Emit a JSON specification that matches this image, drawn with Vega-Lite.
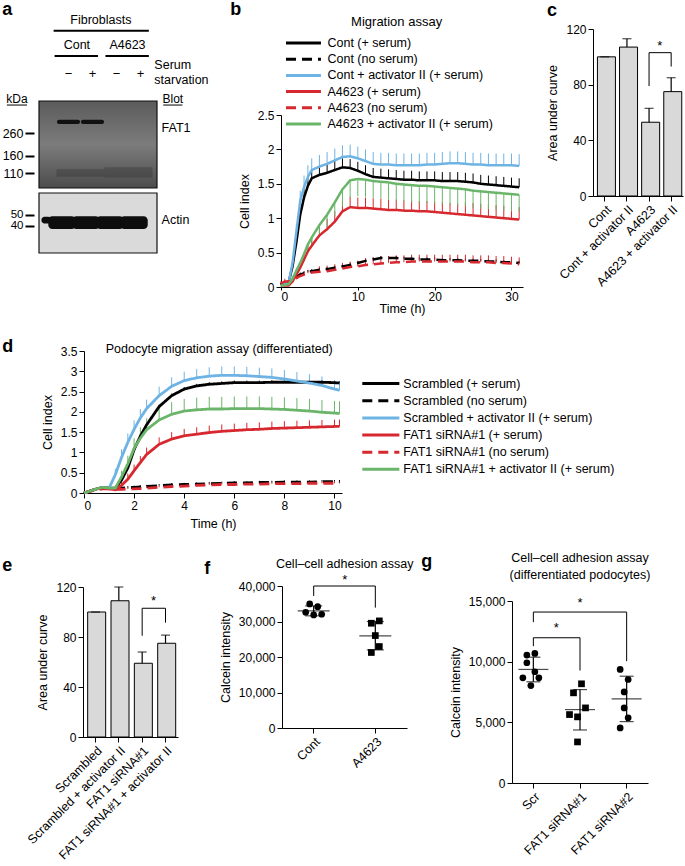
{
"$schema": "https://vega.github.io/schema/vega-lite/v6.json",
"background": "white",
"padding": {"left": 1, "top": 0, "right": 2, "bottom": 2},
"config": {
  "font": "Liberation Sans",
  "view": {"stroke": null},
  "axis": {"grid": false, "domainColor": "#000", "tickColor": "#000", "labelColor": "#000", "titleColor": "#000", "labelFontSize": 12, "titleFontSize": 12.5, "titleFontWeight": "normal", "tickSize": 5, "labelPadding": 2, "titlePadding": 6, "labelOverlap": false},
  "title": {"fontSize": 18, "fontWeight": "bold", "anchor": "start", "frame": "bounds", "color": "#000"},
  "text": {"fontSize": 12.5, "color": "#000"}
},
"datasets": {
  "b": [
{"s":0,"t":0,"v":0.03,"u":0.05},{"s":0,"t":0.5,"v":0.06,"u":0.08},{"s":0,"t":1,"v":0.07,"u":0.1},{"s":0,"t":1.5,"v":0.3,"u":0.36},{"s":0,"t":2,"v":0.65,"u":0.74},{"s":0,"t":2.5,"v":1.05,"u":1.16},{"s":0,"t":3,"v":1.3,"u":1.42},{"s":0,"t":3.5,"v":1.47,"u":1.6},{"s":0,"t":4,"v":1.58,"u":1.71},{"s":0,"t":5,"v":1.63,"u":1.76},{"s":0,"t":6,"v":1.66,"u":1.79},{"s":0,"t":7,"v":1.7,"u":1.83},{"s":0,"t":8,"v":1.74,"u":1.87},{"s":0,"t":9,"v":1.73,"u":1.86},{"s":0,"t":10,"v":1.69,"u":1.82},{"s":0,"t":11,"v":1.64,"u":1.77},{"s":0,"t":12,"v":1.6,"u":1.73},{"s":0,"t":13,"v":1.59,"u":1.72},{"s":0,"t":14,"v":1.58,"u":1.71},{"s":0,"t":15,"v":1.57,"u":1.7},{"s":0,"t":16,"v":1.56,"u":1.69},{"s":0,"t":17,"v":1.56,"u":1.69},{"s":0,"t":18,"v":1.55,"u":1.68},{"s":0,"t":19,"v":1.55,"u":1.68},{"s":0,"t":20,"v":1.55,"u":1.68},{"s":0,"t":21,"v":1.54,"u":1.67},{"s":0,"t":22,"v":1.54,"u":1.67},{"s":0,"t":23,"v":1.54,"u":1.67},{"s":0,"t":24,"v":1.53,"u":1.66},{"s":0,"t":25,"v":1.52,"u":1.65},{"s":0,"t":26,"v":1.5,"u":1.63},{"s":0,"t":27,"v":1.49,"u":1.62},{"s":0,"t":28,"v":1.48,"u":1.61},{"s":0,"t":29,"v":1.47,"u":1.6},{"s":0,"t":30,"v":1.46,"u":1.59},{"s":0,"t":31,"v":1.45,"u":1.58},
{"s":1,"t":0,"v":0.03,"u":0.06},{"s":1,"t":0.5,"v":0.06,"u":0.09},{"s":1,"t":1,"v":0.08,"u":0.11},{"s":1,"t":1.5,"v":0.12,"u":0.15},{"s":1,"t":2,"v":0.15,"u":0.18},{"s":1,"t":2.5,"v":0.18,"u":0.21},{"s":1,"t":3,"v":0.2,"u":0.23},{"s":1,"t":3.5,"v":0.22,"u":0.25},{"s":1,"t":4,"v":0.23,"u":0.26},{"s":1,"t":5,"v":0.25,"u":0.28},{"s":1,"t":6,"v":0.26,"u":0.29},{"s":1,"t":7,"v":0.28,"u":0.31},{"s":1,"t":8,"v":0.3,"u":0.33},{"s":1,"t":9,"v":0.32,"u":0.35},{"s":1,"t":10,"v":0.35,"u":0.38},{"s":1,"t":11,"v":0.38,"u":0.41},{"s":1,"t":12,"v":0.4,"u":0.43},{"s":1,"t":13,"v":0.42,"u":0.45},{"s":1,"t":14,"v":0.42,"u":0.45},{"s":1,"t":15,"v":0.42,"u":0.45},{"s":1,"t":16,"v":0.41,"u":0.44},{"s":1,"t":17,"v":0.41,"u":0.44},{"s":1,"t":18,"v":0.4,"u":0.43},{"s":1,"t":19,"v":0.4,"u":0.43},{"s":1,"t":20,"v":0.4,"u":0.43},{"s":1,"t":21,"v":0.39,"u":0.42},{"s":1,"t":22,"v":0.39,"u":0.42},{"s":1,"t":23,"v":0.39,"u":0.42},{"s":1,"t":24,"v":0.38,"u":0.41},{"s":1,"t":25,"v":0.38,"u":0.41},{"s":1,"t":26,"v":0.38,"u":0.41},{"s":1,"t":27,"v":0.37,"u":0.4},{"s":1,"t":28,"v":0.37,"u":0.4},{"s":1,"t":29,"v":0.36,"u":0.39},{"s":1,"t":30,"v":0.36,"u":0.39},{"s":1,"t":31,"v":0.35,"u":0.38},
{"s":2,"t":0,"v":0.02,"u":0.05},{"s":2,"t":0.5,"v":0.05,"u":0.08},{"s":2,"t":1,"v":0.06,"u":0.09},{"s":2,"t":1.5,"v":0.35,"u":0.43},{"s":2,"t":2,"v":0.8,"u":0.92},{"s":2,"t":2.5,"v":1.25,"u":1.4},{"s":2,"t":3,"v":1.45,"u":1.62},{"s":2,"t":3.5,"v":1.6,"u":1.77},{"s":2,"t":4,"v":1.7,"u":1.87},{"s":2,"t":5,"v":1.75,"u":1.92},{"s":2,"t":6,"v":1.79,"u":1.96},{"s":2,"t":7,"v":1.84,"u":2.01},{"s":2,"t":8,"v":1.89,"u":2.06},{"s":2,"t":9,"v":1.9,"u":2.07},{"s":2,"t":10,"v":1.87,"u":2.04},{"s":2,"t":11,"v":1.83,"u":2},{"s":2,"t":12,"v":1.79,"u":1.96},{"s":2,"t":13,"v":1.78,"u":1.95},{"s":2,"t":14,"v":1.78,"u":1.95},{"s":2,"t":15,"v":1.77,"u":1.94},{"s":2,"t":16,"v":1.77,"u":1.94},{"s":2,"t":17,"v":1.77,"u":1.94},{"s":2,"t":18,"v":1.77,"u":1.94},{"s":2,"t":19,"v":1.78,"u":1.95},{"s":2,"t":20,"v":1.78,"u":1.95},{"s":2,"t":21,"v":1.79,"u":1.96},{"s":2,"t":22,"v":1.8,"u":1.97},{"s":2,"t":23,"v":1.8,"u":1.97},{"s":2,"t":24,"v":1.79,"u":1.96},{"s":2,"t":25,"v":1.78,"u":1.95},{"s":2,"t":26,"v":1.78,"u":1.95},{"s":2,"t":27,"v":1.77,"u":1.94},{"s":2,"t":28,"v":1.77,"u":1.94},{"s":2,"t":29,"v":1.77,"u":1.94},{"s":2,"t":30,"v":1.77,"u":1.94},{"s":2,"t":31,"v":1.76,"u":1.93},
{"s":3,"t":0,"v":0.03,"u":0.05},{"s":3,"t":0.5,"v":0.02,"u":0.04},{"s":3,"t":1,"v":0.02,"u":0.04},{"s":3,"t":1.5,"v":0.08,"u":0.12},{"s":3,"t":2,"v":0.18,"u":0.24},{"s":3,"t":2.5,"v":0.28,"u":0.36},{"s":3,"t":3,"v":0.4,"u":0.5},{"s":3,"t":3.5,"v":0.52,"u":0.64},{"s":3,"t":4,"v":0.6,"u":0.73},{"s":3,"t":5,"v":0.75,"u":0.9},{"s":3,"t":6,"v":0.84,"u":0.99},{"s":3,"t":7,"v":0.95,"u":1.1},{"s":3,"t":8,"v":1.1,"u":1.25},{"s":3,"t":9,"v":1.16,"u":1.31},{"s":3,"t":10,"v":1.15,"u":1.3},{"s":3,"t":11,"v":1.15,"u":1.3},{"s":3,"t":12,"v":1.14,"u":1.29},{"s":3,"t":13,"v":1.13,"u":1.28},{"s":3,"t":14,"v":1.12,"u":1.27},{"s":3,"t":15,"v":1.12,"u":1.27},{"s":3,"t":16,"v":1.11,"u":1.26},{"s":3,"t":17,"v":1.11,"u":1.26},{"s":3,"t":18,"v":1.1,"u":1.25},{"s":3,"t":19,"v":1.1,"u":1.25},{"s":3,"t":20,"v":1.09,"u":1.24},{"s":3,"t":21,"v":1.08,"u":1.23},{"s":3,"t":22,"v":1.07,"u":1.22},{"s":3,"t":23,"v":1.06,"u":1.21},{"s":3,"t":24,"v":1.05,"u":1.23},{"s":3,"t":25,"v":1.04,"u":1.22},{"s":3,"t":26,"v":1.03,"u":1.21},{"s":3,"t":27,"v":1.02,"u":1.2},{"s":3,"t":28,"v":1.01,"u":1.19},{"s":3,"t":29,"v":1,"u":1.18},{"s":3,"t":30,"v":0.99,"u":1.17},{"s":3,"t":31,"v":0.98,"u":1.16},
{"s":4,"t":0,"v":0.05,"u":0.09},{"s":4,"t":0.5,"v":0.08,"u":0.12},{"s":4,"t":1,"v":0.08,"u":0.12},{"s":4,"t":1.5,"v":0.1,"u":0.14},{"s":4,"t":2,"v":0.13,"u":0.17},{"s":4,"t":2.5,"v":0.16,"u":0.2},{"s":4,"t":3,"v":0.18,"u":0.22},{"s":4,"t":3.5,"v":0.2,"u":0.24},{"s":4,"t":4,"v":0.21,"u":0.25},{"s":4,"t":5,"v":0.22,"u":0.3},{"s":4,"t":6,"v":0.23,"u":0.31},{"s":4,"t":7,"v":0.25,"u":0.33},{"s":4,"t":8,"v":0.27,"u":0.35},{"s":4,"t":9,"v":0.29,"u":0.37},{"s":4,"t":10,"v":0.3,"u":0.38},{"s":4,"t":11,"v":0.32,"u":0.42},{"s":4,"t":12,"v":0.33,"u":0.43},{"s":4,"t":13,"v":0.34,"u":0.44},{"s":4,"t":14,"v":0.35,"u":0.45},{"s":4,"t":15,"v":0.36,"u":0.46},{"s":4,"t":16,"v":0.36,"u":0.46},{"s":4,"t":17,"v":0.37,"u":0.47},{"s":4,"t":18,"v":0.37,"u":0.47},{"s":4,"t":19,"v":0.37,"u":0.47},{"s":4,"t":20,"v":0.37,"u":0.47},{"s":4,"t":21,"v":0.37,"u":0.47},{"s":4,"t":22,"v":0.37,"u":0.47},{"s":4,"t":23,"v":0.37,"u":0.47},{"s":4,"t":24,"v":0.37,"u":0.47},{"s":4,"t":25,"v":0.36,"u":0.46},{"s":4,"t":26,"v":0.36,"u":0.46},{"s":4,"t":27,"v":0.36,"u":0.46},{"s":4,"t":28,"v":0.35,"u":0.45},{"s":4,"t":29,"v":0.35,"u":0.45},{"s":4,"t":30,"v":0.34,"u":0.44},{"s":4,"t":31,"v":0.33,"u":0.43},
{"s":5,"t":0,"v":0.02,"u":0},{"s":5,"t":0.5,"v":0.03,"u":0.01},{"s":5,"t":1,"v":0.04,"u":0.02},{"s":5,"t":1.5,"v":0.12,"u":0.08},{"s":5,"t":2,"v":0.24,"u":0.18},{"s":5,"t":2.5,"v":0.35,"u":0.27},{"s":5,"t":3,"v":0.48,"u":0.38},{"s":5,"t":3.5,"v":0.62,"u":0.5},{"s":5,"t":4,"v":0.72,"u":0.58},{"s":5,"t":5,"v":0.9,"u":0.74},{"s":5,"t":6,"v":1.05,"u":0.87},{"s":5,"t":7,"v":1.23,"u":1.03},{"s":5,"t":8,"v":1.42,"u":1.17},{"s":5,"t":9,"v":1.55,"u":1.3},{"s":5,"t":10,"v":1.57,"u":1.32},{"s":5,"t":11,"v":1.56,"u":1.31},{"s":5,"t":12,"v":1.54,"u":1.29},{"s":5,"t":13,"v":1.53,"u":1.28},{"s":5,"t":14,"v":1.52,"u":1.27},{"s":5,"t":15,"v":1.5,"u":1.25},{"s":5,"t":16,"v":1.49,"u":1.24},{"s":5,"t":17,"v":1.48,"u":1.23},{"s":5,"t":18,"v":1.47,"u":1.22},{"s":5,"t":19,"v":1.47,"u":1.22},{"s":5,"t":20,"v":1.46,"u":1.21},{"s":5,"t":21,"v":1.45,"u":1.2},{"s":5,"t":22,"v":1.44,"u":1.19},{"s":5,"t":23,"v":1.43,"u":1.18},{"s":5,"t":24,"v":1.42,"u":1.17},{"s":5,"t":25,"v":1.4,"u":1.15},{"s":5,"t":26,"v":1.39,"u":1.14},{"s":5,"t":27,"v":1.38,"u":1.13},{"s":5,"t":28,"v":1.37,"u":1.12},{"s":5,"t":29,"v":1.36,"u":1.11},{"s":5,"t":30,"v":1.35,"u":1.1},{"s":5,"t":31,"v":1.34,"u":1.09}
  ],
  "d": [
{"s":0,"t":0,"v":0,"u":0.02},{"s":0,"t":0.5,"v":0.1,"u":0.12},{"s":0,"t":0.75,"v":0.14,"u":0.16},{"s":0,"t":1,"v":0.12,"u":0.14},{"s":0,"t":1.25,"v":0.12,"u":0.15},{"s":0,"t":1.5,"v":0.32,"u":0.37},{"s":0,"t":1.75,"v":0.62,"u":0.67},{"s":0,"t":2,"v":1.07,"u":1.12},{"s":0,"t":2.25,"v":1.4,"u":1.45},{"s":0,"t":2.5,"v":1.68,"u":1.73},{"s":0,"t":3,"v":2.13,"u":2.18},{"s":0,"t":3.5,"v":2.4,"u":2.45},{"s":0,"t":4,"v":2.56,"u":2.61},{"s":0,"t":4.5,"v":2.64,"u":2.69},{"s":0,"t":5,"v":2.68,"u":2.73},{"s":0,"t":5.5,"v":2.7,"u":2.75},{"s":0,"t":6,"v":2.72,"u":2.77},{"s":0,"t":6.5,"v":2.72,"u":2.77},{"s":0,"t":7,"v":2.72,"u":2.77},{"s":0,"t":7.5,"v":2.73,"u":2.78},{"s":0,"t":8,"v":2.73,"u":2.78},{"s":0,"t":8.5,"v":2.73,"u":2.78},{"s":0,"t":9,"v":2.73,"u":2.78},{"s":0,"t":9.5,"v":2.73,"u":2.78},{"s":0,"t":10,"v":2.72,"u":2.77},{"s":0,"t":10.2,"v":2.71,"u":2.76},
{"s":1,"t":0,"v":0,"u":0.02},{"s":1,"t":0.5,"v":0.1,"u":0.12},{"s":1,"t":0.75,"v":0.14,"u":0.16},{"s":1,"t":1,"v":0.12,"u":0.14},{"s":1,"t":1.25,"v":0.11,"u":0.14},{"s":1,"t":1.5,"v":0.12,"u":0.16},{"s":1,"t":1.75,"v":0.13,"u":0.17},{"s":1,"t":2,"v":0.14,"u":0.18},{"s":1,"t":2.25,"v":0.15,"u":0.19},{"s":1,"t":2.5,"v":0.16,"u":0.2},{"s":1,"t":3,"v":0.18,"u":0.22},{"s":1,"t":3.5,"v":0.2,"u":0.24},{"s":1,"t":4,"v":0.21,"u":0.25},{"s":1,"t":4.5,"v":0.22,"u":0.26},{"s":1,"t":5,"v":0.23,"u":0.27},{"s":1,"t":5.5,"v":0.24,"u":0.28},{"s":1,"t":6,"v":0.25,"u":0.29},{"s":1,"t":6.5,"v":0.25,"u":0.29},{"s":1,"t":7,"v":0.26,"u":0.3},{"s":1,"t":7.5,"v":0.26,"u":0.3},{"s":1,"t":8,"v":0.27,"u":0.31},{"s":1,"t":8.5,"v":0.27,"u":0.31},{"s":1,"t":9,"v":0.27,"u":0.31},{"s":1,"t":9.5,"v":0.28,"u":0.32},{"s":1,"t":10,"v":0.28,"u":0.32},{"s":1,"t":10.2,"v":0.28,"u":0.32},
{"s":2,"t":0,"v":0,"u":0.02},{"s":2,"t":0.5,"v":0.1,"u":0.12},{"s":2,"t":0.75,"v":0.14,"u":0.16},{"s":2,"t":1,"v":0.12,"u":0.14},{"s":2,"t":1.25,"v":0.45,"u":0.6},{"s":2,"t":1.5,"v":0.88,"u":1.08},{"s":2,"t":1.75,"v":1.25,"u":1.47},{"s":2,"t":2,"v":1.57,"u":1.79},{"s":2,"t":2.25,"v":1.85,"u":2.07},{"s":2,"t":2.5,"v":2.08,"u":2.3},{"s":2,"t":3,"v":2.4,"u":2.62},{"s":2,"t":3.5,"v":2.63,"u":2.85},{"s":2,"t":4,"v":2.77,"u":2.99},{"s":2,"t":4.5,"v":2.84,"u":3.06},{"s":2,"t":5,"v":2.88,"u":3.1},{"s":2,"t":5.5,"v":2.9,"u":3.12},{"s":2,"t":6,"v":2.9,"u":3.12},{"s":2,"t":6.5,"v":2.89,"u":3.11},{"s":2,"t":7,"v":2.87,"u":3.09},{"s":2,"t":7.5,"v":2.85,"u":3.07},{"s":2,"t":8,"v":2.81,"u":3.03},{"s":2,"t":8.5,"v":2.76,"u":2.98},{"s":2,"t":9,"v":2.71,"u":2.93},{"s":2,"t":9.5,"v":2.65,"u":2.87},{"s":2,"t":10,"v":2.56,"u":2.78},{"s":2,"t":10.2,"v":2.53,"u":2.75},
{"s":3,"t":0,"v":0,"u":0.02},{"s":3,"t":0.5,"v":0.1,"u":0.12},{"s":3,"t":0.75,"v":0.12,"u":0.14},{"s":3,"t":1,"v":0.1,"u":0.12},{"s":3,"t":1.25,"v":0.08,"u":0.1},{"s":3,"t":1.5,"v":0.19,"u":0.3},{"s":3,"t":1.75,"v":0.34,"u":0.48},{"s":3,"t":2,"v":0.55,"u":0.7},{"s":3,"t":2.25,"v":0.75,"u":0.91},{"s":3,"t":2.5,"v":0.95,"u":1.12},{"s":3,"t":3,"v":1.2,"u":1.37},{"s":3,"t":3.5,"v":1.33,"u":1.5},{"s":3,"t":4,"v":1.41,"u":1.58},{"s":3,"t":4.5,"v":1.45,"u":1.62},{"s":3,"t":5,"v":1.49,"u":1.66},{"s":3,"t":5.5,"v":1.52,"u":1.69},{"s":3,"t":6,"v":1.54,"u":1.71},{"s":3,"t":6.5,"v":1.56,"u":1.73},{"s":3,"t":7,"v":1.57,"u":1.74},{"s":3,"t":7.5,"v":1.59,"u":1.76},{"s":3,"t":8,"v":1.6,"u":1.77},{"s":3,"t":8.5,"v":1.61,"u":1.78},{"s":3,"t":9,"v":1.62,"u":1.79},{"s":3,"t":9.5,"v":1.63,"u":1.8},{"s":3,"t":10,"v":1.64,"u":1.81},{"s":3,"t":10.2,"v":1.64,"u":1.81},
{"s":4,"t":0,"v":0,"u":0.02},{"s":4,"t":0.5,"v":0.08,"u":0.1},{"s":4,"t":0.75,"v":0.1,"u":0.12},{"s":4,"t":1,"v":0.1,"u":0.12},{"s":4,"t":1.25,"v":0.09,"u":0.12},{"s":4,"t":1.5,"v":0.09,"u":0.13},{"s":4,"t":1.75,"v":0.1,"u":0.14},{"s":4,"t":2,"v":0.1,"u":0.14},{"s":4,"t":2.25,"v":0.11,"u":0.15},{"s":4,"t":2.5,"v":0.12,"u":0.16},{"s":4,"t":3,"v":0.14,"u":0.18},{"s":4,"t":3.5,"v":0.16,"u":0.2},{"s":4,"t":4,"v":0.17,"u":0.21},{"s":4,"t":4.5,"v":0.19,"u":0.23},{"s":4,"t":5,"v":0.2,"u":0.24},{"s":4,"t":5.5,"v":0.21,"u":0.25},{"s":4,"t":6,"v":0.21,"u":0.25},{"s":4,"t":6.5,"v":0.22,"u":0.26},{"s":4,"t":7,"v":0.22,"u":0.26},{"s":4,"t":7.5,"v":0.23,"u":0.27},{"s":4,"t":8,"v":0.23,"u":0.27},{"s":4,"t":8.5,"v":0.23,"u":0.27},{"s":4,"t":9,"v":0.24,"u":0.28},{"s":4,"t":9.5,"v":0.24,"u":0.28},{"s":4,"t":10,"v":0.24,"u":0.28},{"s":4,"t":10.2,"v":0.24,"u":0.28},
{"s":5,"t":0,"v":0,"u":0.02},{"s":5,"t":0.5,"v":0.1,"u":0.12},{"s":5,"t":0.75,"v":0.14,"u":0.16},{"s":5,"t":1,"v":0.12,"u":0.14},{"s":5,"t":1.25,"v":0.12,"u":0.16},{"s":5,"t":1.5,"v":0.4,"u":0.55},{"s":5,"t":1.75,"v":0.72,"u":0.92},{"s":5,"t":2,"v":1.1,"u":1.35},{"s":5,"t":2.25,"v":1.35,"u":1.62},{"s":5,"t":2.5,"v":1.56,"u":1.84},{"s":5,"t":3,"v":1.8,"u":2.1},{"s":5,"t":3.5,"v":1.94,"u":2.24},{"s":5,"t":4,"v":2.02,"u":2.32},{"s":5,"t":4.5,"v":2.05,"u":2.35},{"s":5,"t":5,"v":2.07,"u":2.37},{"s":5,"t":5.5,"v":2.07,"u":2.37},{"s":5,"t":6,"v":2.08,"u":2.38},{"s":5,"t":6.5,"v":2.08,"u":2.38},{"s":5,"t":7,"v":2.08,"u":2.38},{"s":5,"t":7.5,"v":2.07,"u":2.37},{"s":5,"t":8,"v":2.06,"u":2.36},{"s":5,"t":8.5,"v":2.04,"u":2.34},{"s":5,"t":9,"v":2.02,"u":2.32},{"s":5,"t":9.5,"v":1.99,"u":2.29},{"s":5,"t":10,"v":1.97,"u":2.27},{"s":5,"t":10.2,"v":1.96,"u":2.26}
  ]
},
"spacing": 22,
"vconcat": [
 {"spacing": 0, "hconcat": [
  {"width": 1, "height": 1, "data": {"values": [{}]}, "mark": {"type": "point", "opacity": 0, "size": 1}},
  {"spacing": 21, "hconcat": [
   {"spacing": 0, "vconcat": [
    {"width": 1, "height": 1, "data": {"values": [{}]}, "mark": {"type": "point", "opacity": 0, "size": 1}},
    {"vconcat": [
     {"title": {"text": "a", "offset": -5.5},
      "width": 128, "height": 87,
      "layer": [
       {"data": {"values": [{}]},
        "mark": {"type": "rect", "fill": {"gradient": "linear", "x1": 0, "y1": 0, "x2": 0, "y2": 1, "stops": [{"offset": 0, "color": "#5b5b5b"}, {"offset": 0.5, "color": "#7c7c7c"}, {"offset": 1, "color": "#4c4c4c"}]}, "stroke": "#111", "strokeWidth": 1.2},
        "encoding": {
         "x": {"datum": -0.23, "type": "quantitative", "scale": {"domain": [-0.23, 4.69], "nice": false, "zero": false}, "axis": null},
         "x2": {"datum": 4.69},
         "y": {"datum": 80, "type": "quantitative", "scale": {"type": "log", "domain": [80, 518], "nice": false}, "axis": {"values": [110, 160, 260], "tickCount": 5, "title": null, "domain": false, "tickSize": 9, "tickWidth": 2, "labelFontSize": 12.5, "labelPadding": 2}},
         "y2": {"datum": 518}}},
       {"data": {"values": [{"lane": 1, "hi": 120, "lo": 102}, {"lane": 2, "hi": 120, "lo": 102}, {"lane": 3, "hi": 125, "lo": 100}, {"lane": 4, "hi": 125, "lo": 100}]},
        "mark": {"type": "bar", "width": 24, "color": "#2a2a2a", "opacity": 0.3},
        "encoding": {"x": {"field": "lane", "type": "quantitative"}, "y": {"field": "hi", "type": "quantitative"}, "y2": {"field": "lo"}}},
       {"data": {"values": [{"lane": 1, "hi": 346, "lo": 316}, {"lane": 2, "hi": 346, "lo": 316}]},
        "mark": {"type": "bar", "width": 23, "color": "#111", "cornerRadius": 2},
        "encoding": {"x": {"field": "lane", "type": "quantitative"}, "y": {"field": "hi", "type": "quantitative"}, "y2": {"field": "lo"}}},
       {"data": {"values": [{}]}, "mark": {"type": "text", "text": "Fibroblasts", "fontSize": 12.5}, "encoding": {"x": {"datum": 2.35}, "y": {"datum": 2958}}},
       {"data": {"values": [{}]}, "mark": {"type": "rule", "strokeWidth": 2}, "encoding": {"x": {"datum": 0.38}, "x2": {"datum": 4.35}, "y": {"datum": 2335}}},
       {"data": {"values": [{}]}, "mark": {"type": "text", "text": "Cont", "fontSize": 12.5}, "encoding": {"x": {"datum": 1.35}, "y": {"datum": 1727}}},
       {"data": {"values": [{}]}, "mark": {"type": "text", "text": "A4623", "fontSize": 12.5}, "encoding": {"x": {"datum": 3.46}, "y": {"datum": 1727}}},
       {"data": {"values": [{}]}, "mark": {"type": "rule", "strokeWidth": 2}, "encoding": {"x": {"datum": 0.42}, "x2": {"datum": 2.23}, "y": {"datum": 1364}}},
       {"data": {"values": [{}]}, "mark": {"type": "rule", "strokeWidth": 2}, "encoding": {"x": {"datum": 2.54}, "x2": {"datum": 4.35}, "y": {"datum": 1364}}},
       {"data": {"values": [{"lane": 1, "serum": "−"}, {"lane": 2, "serum": "+"}, {"lane": 3, "serum": "−"}, {"lane": 4, "serum": "+"}]},
        "mark": {"type": "text", "fontSize": 13}, "encoding": {"x": {"field": "lane", "type": "quantitative"}, "y": {"datum": 925}, "text": {"field": "serum"}}},
       {"data": {"values": [{}]}, "mark": {"type": "text", "text": "Serum", "align": "left", "fontSize": 12.5}, "encoding": {"x": {"datum": 4.58}, "y": {"datum": 1124}}},
       {"data": {"values": [{}]}, "mark": {"type": "text", "text": "starvation", "align": "left", "fontSize": 12.5}, "encoding": {"x": {"datum": 4.58}, "y": {"datum": 813}}},
       {"data": {"values": [{}]}, "mark": {"type": "text", "text": "kDa", "fontSize": 12}, "encoding": {"x": {"datum": -1.15}, "y": {"datum": 541}}},
       {"data": {"values": [{}]}, "mark": {"type": "rule", "strokeWidth": 1}, "encoding": {"x": {"datum": -1.57}, "x2": {"datum": -0.73}, "y": {"datum": 475}}},
       {"data": {"values": [{}]}, "mark": {"type": "text", "text": "Blot", "fontSize": 12}, "encoding": {"x": {"datum": 5.35}, "y": {"datum": 541}}},
       {"data": {"values": [{}]}, "mark": {"type": "rule", "strokeWidth": 1}, "encoding": {"x": {"datum": 4.95}, "x2": {"datum": 5.75}, "y": {"datum": 475}}},
       {"data": {"values": [{}]}, "mark": {"type": "text", "text": "FAT1", "align": "left", "fontSize": 12.5}, "encoding": {"x": {"datum": 4.88}, "y": {"datum": 290}}}
      ]},
     {"width": 128, "height": 60,
      "layer": [
       {"data": {"values": [{}]},
        "mark": {"type": "rect", "fill": "#dadada", "stroke": "#111", "strokeWidth": 1.2},
        "encoding": {
         "x": {"datum": 0.04, "type": "quantitative", "scale": {"domain": [0.04, 4.96], "nice": false, "zero": false}, "axis": null},
         "x2": {"datum": 4.96},
         "y": {"datum": 23, "type": "quantitative", "scale": {"type": "log", "domain": [23, 78], "nice": false}, "axis": {"values": [40, 50], "tickCount": 5, "title": null, "domain": false, "tickSize": 9, "tickWidth": 2, "labelFontSize": 11.5, "labelPadding": 2}},
         "y2": {"datum": 78}}},
       {"data": {"values": [{"lane": 1}, {"lane": 2}, {"lane": 3}, {"lane": 4}]},
        "mark": {"type": "bar", "width": 27.5, "color": "#0d0d0d", "cornerRadius": 4},
        "encoding": {"x": {"field": "lane", "type": "quantitative"}, "y": {"datum": 48.5}, "y2": {"datum": 37.5}}},
       {"data": {"values": [{"lane": 0.35}]},
        "mark": {"type": "bar", "width": 10, "color": "#0d0d0d", "cornerRadius": 3},
        "encoding": {"x": {"field": "lane", "type": "quantitative"}, "y": {"datum": 48}, "y2": {"datum": 42}}},
       {"data": {"values": [{}]}, "mark": {"type": "text", "text": "Actin", "align": "left", "fontSize": 12.5}, "encoding": {"x": {"datum": 5.15}, "y": {"datum": 45}}}
      ]}
    ], "spacing": 3}
   ]},
   {"spacing": 0, "vconcat": [
    {"width": 1, "height": 1, "data": {"values": [{}]}, "mark": {"type": "point", "opacity": 0, "size": 1}},
    {"title": {"text": "b", "offset": -3, "dx": -8},
     "width": 242, "height": 172,
     "resolve": {"scale": {"y": "independent"}, "axis": {"y": "independent"}},
     "layer": [
      {"data": {"name": "b"},
       "layer": [
        {"mark": {"type": "rule", "strokeWidth": 1},
         "encoding": {
          "x": {"field": "t", "type": "quantitative", "scale": {"domain": [0, 31.5], "nice": false}, "axis": {"values": [0, 10, 20, 30], "tickCount": 10, "title": "Time (h)", "tickSize": 3, "labelPadding": 1, "titlePadding": 0}},
          "y": {"field": "v", "type": "quantitative", "scale": {"domain": [0, 2.5], "nice": false}, "axis": {"values": [0, 0.5, 1, 1.5, 2, 2.5], "tickCount": 12, "format": "~g", "title": "Cell index"}},
          "y2": {"field": "u"},
          "color": {"field": "s", "type": "nominal", "scale": {"domain": [0, 1, 2, 3, 4, 5], "range": ["#000000", "#000000", "#6db3e4", "#d6282e", "#d6282e", "#6bb56b"]}, "legend": null}}},
        {"mark": {"type": "line", "strokeWidth": 2.5},
         "encoding": {
          "x": {"field": "t", "type": "quantitative"},
          "y": {"field": "v", "type": "quantitative"},
          "color": {"field": "s", "type": "nominal", "legend": null},
          "strokeDash": {"field": "s", "type": "nominal", "scale": {"domain": [0, 1, 2, 3, 4, 5], "range": [[1, 0], [10, 6], [1, 0], [1, 0], [10, 6], [1, 0]]}, "legend": null}}},
        {"data": {"values": [{}]}, "mark": {"type": "text", "text": "Migration assay", "fontSize": 13}, "encoding": {"x": {"datum": 15.05}, "y": {"datum": 3.85}}}
       ]},
      {"data": {"values": [{"s": 0, "name": "Cont (+ serum)"}, {"s": 1, "name": "Cont (no serum)"}, {"s": 2, "name": "Cont + activator II (+ serum)"}, {"s": 3, "name": "A4623 (+ serum)"}, {"s": 4, "name": "A4623 (no serum)"}, {"s": 5, "name": "A4623 + activator II (+ serum)"}]},
       "layer": [
        {"mark": {"type": "rule", "strokeWidth": 3},
         "encoding": {
          "x": {"datum": 0.65}, "x2": {"datum": 5.2},
          "y": {"field": "s", "type": "nominal", "scale": {"type": "point", "domain": [0, 1, 2, 3, 4, 5], "range": [-72, 9], "padding": 0}, "axis": null},
          "color": {"field": "s", "type": "nominal", "legend": null},
          "strokeDash": {"field": "s", "type": "nominal", "legend": null}}},
        {"mark": {"type": "text", "align": "left", "baseline": "middle", "fontSize": 12.5},
         "encoding": {"x": {"datum": 6.05}, "y": {"field": "s", "type": "nominal"}, "text": {"field": "name"}}}
       ]}
     ]}
   ]},
   {"spacing": 0, "vconcat": [
    {"width": 1, "height": 1, "data": {"values": [{}]}, "mark": {"type": "point", "opacity": 0, "size": 1}},
    {"title": {"text": "c", "offset": 3.5},
     "width": 90, "height": 167,
     "layer": [
      {"data": {"values": [{"g": "Cont", "v": 100, "u": 100}, {"g": "Cont + activator II", "v": 107, "u": 113}, {"g": "A4623", "v": 53, "u": 63}, {"g": "A4623 + activator II", "v": 75, "u": 85}]},
       "layer": [
        {"mark": {"type": "bar", "fill": "#d9d9d9", "stroke": "#000", "strokeWidth": 1},
         "encoding": {
          "x": {"field": "g", "type": "nominal", "sort": null, "scale": {"domain": ["Cont", "Cont + activator II", "A4623", "A4623 + activator II"], "paddingInner": 0.33, "paddingOuter": 0.2}, "axis": {"labelAngle": -45, "title": null, "labelFontSize": 12.5}},
          "y": {"field": "v", "type": "quantitative", "scale": {"domain": [0, 120], "nice": false}, "axis": {"values": [0, 40, 80, 120], "tickCount": 10, "title": "Area under curve"}}}},
        {"mark": {"type": "rule", "strokeWidth": 1.2, "color": "#000"}, "encoding": {"x": {"field": "g", "type": "nominal"}, "y": {"field": "v", "type": "quantitative"}, "y2": {"field": "u"}}},
        {"mark": {"type": "tick", "orient": "horizontal", "size": 9, "thickness": 1.2, "color": "#000"}, "encoding": {"x": {"field": "g", "type": "nominal"}, "y": {"field": "u", "type": "quantitative"}}}
       ]},
      {"data": {"values": [{"g": "A4623", "lo": 79, "hi": 103}, {"g": "A4623 + activator II", "lo": 93, "hi": 103}]},
       "mark": {"type": "rule", "strokeWidth": 1, "color": "#000"}, "encoding": {"x": {"field": "g", "type": "nominal"}, "y": {"field": "lo", "type": "quantitative"}, "y2": {"field": "hi"}}},
      {"data": {"values": [{"a": "A4623", "b": "A4623 + activator II", "y": 103}]},
       "mark": {"type": "rule", "strokeWidth": 1, "color": "#000"}, "encoding": {"x": {"field": "a", "type": "nominal"}, "x2": {"field": "b"}, "y": {"field": "y", "type": "quantitative"}}},
      {"data": {"values": [{"b": "A4623 + activator II", "y": 108, "star": "*"}]},
       "mark": {"type": "text", "dx": -11.5, "fontSize": 13, "baseline": "middle"}, "encoding": {"x": {"field": "b", "type": "nominal"}, "y": {"field": "y", "type": "quantitative"}, "text": {"field": "star"}}}
     ]}
   ]}
  ]}
 ]},
 {"spacing": 21, "vconcat": [
 {"spacing": 0, "hconcat": [
  {"width": 1, "height": 1, "data": {"values": [{}]}, "mark": {"type": "point", "opacity": 0, "size": 1}},
  {"title": {"text": "d", "offset": -13, "dx": -39},
   "width": 258, "height": 142,
   "resolve": {"scale": {"y": "independent"}, "axis": {"y": "independent"}},
   "layer": [
    {"data": {"name": "d"},
     "layer": [
      {"mark": {"type": "rule", "strokeWidth": 1},
       "encoding": {
        "x": {"field": "t", "type": "quantitative", "scale": {"domain": [0, 10.3], "nice": false}, "axis": {"values": [0, 2, 4, 6, 8, 10], "tickCount": 12, "title": "Time (h)"}},
        "y": {"field": "v", "type": "quantitative", "scale": {"domain": [0, 3.5], "nice": false}, "axis": {"values": [0, 0.5, 1, 1.5, 2, 2.5, 3, 3.5], "tickCount": 16, "format": "~g", "title": "Cell index"}},
        "y2": {"field": "u"},
        "color": {"field": "s", "type": "nominal", "scale": {"domain": [0, 1, 2, 3, 4, 5], "range": ["#000000", "#000000", "#6db3e4", "#d6282e", "#d6282e", "#6bb56b"]}, "legend": null}}},
      {"mark": {"type": "line", "strokeWidth": 2.8},
       "encoding": {
        "x": {"field": "t", "type": "quantitative"},
        "y": {"field": "v", "type": "quantitative"},
        "color": {"field": "s", "type": "nominal", "legend": null},
        "strokeDash": {"field": "s", "type": "nominal", "scale": {"domain": [0, 1, 2, 3, 4, 5], "range": [[1, 0], [10, 6], [1, 0], [1, 0], [10, 6], [1, 0]]}, "legend": null}}},
      {"data": {"values": [{}]}, "mark": {"type": "text", "text": "Podocyte migration assay (differentiated)", "fontSize": 12.5}, "encoding": {"x": {"datum": 5.4}, "y": {"datum": 3.56}}}
     ]},
    {"data": {"values": [{"s": 0, "name": "Scrambled (+ serum)"}, {"s": 1, "name": "Scrambled (no serum)"}, {"s": 2, "name": "Scrambled + activator II (+ serum)"}, {"s": 3, "name": "FAT1 siRNA#1 (+ serum)"}, {"s": 4, "name": "FAT1 siRNA#1 (no serum)"}, {"s": 5, "name": "FAT1 siRNA#1 + activator II (+ serum)"}]},
     "layer": [
      {"mark": {"type": "rule", "strokeWidth": 3},
       "encoding": {
        "x": {"datum": 11.11}, "x2": {"datum": 12.59},
        "y": {"field": "s", "type": "nominal", "scale": {"type": "point", "domain": [0, 1, 2, 3, 4, 5], "range": [32.6, 118.3], "padding": 0}, "axis": null},
        "color": {"field": "s", "type": "nominal", "legend": null},
        "strokeDash": {"field": "s", "type": "nominal", "legend": null}}},
      {"mark": {"type": "text", "align": "left", "baseline": "middle", "fontSize": 12.5},
       "encoding": {"x": {"datum": 12.75}, "y": {"field": "s", "type": "nominal"}, "text": {"field": "name"}}}
     ]}
   ]}
 ]},
 {"spacing": 0, "hconcat": [
  {"width": 1, "height": 1, "data": {"values": [{}]}, "mark": {"type": "point", "opacity": 0, "size": 1}},
  {"spacing": 26, "hconcat": [
   {"spacing": 5, "vconcat": [
    {"width": 1, "height": 1, "data": {"values": [{}]}, "mark": {"type": "point", "opacity": 0, "size": 1}},
    {"title": {"text": "e", "offset": 6, "dx": -23},
     "width": 95, "height": 150,
     "layer": [
      {"data": {"values": [{"g": "Scrambled", "v": 100, "u": 100}, {"g": "Scrambled + activator II", "v": 109, "u": 120}, {"g": "FAT1 siRNA#1", "v": 59, "u": 68}, {"g": "FAT1 siRNA#1 + activator II", "v": 75, "u": 81.5}]},
       "layer": [
        {"mark": {"type": "bar", "fill": "#d9d9d9", "stroke": "#000", "strokeWidth": 1},
         "encoding": {
          "x": {"field": "g", "type": "nominal", "sort": null, "scale": {"domain": ["Scrambled", "Scrambled + activator II", "FAT1 siRNA#1", "FAT1 siRNA#1 + activator II"], "paddingInner": 0.33, "paddingOuter": 0.2}, "axis": {"labelAngle": -45, "title": null, "labelFontSize": 12.5}},
          "y": {"field": "v", "type": "quantitative", "scale": {"domain": [0, 120], "nice": false}, "axis": {"values": [0, 40, 80, 120], "tickCount": 10, "title": "Area under curve"}}}},
        {"mark": {"type": "rule", "strokeWidth": 1.2, "color": "#000"}, "encoding": {"x": {"field": "g", "type": "nominal"}, "y": {"field": "v", "type": "quantitative"}, "y2": {"field": "u"}}},
        {"mark": {"type": "tick", "orient": "horizontal", "size": 9, "thickness": 1.2, "color": "#000"}, "encoding": {"x": {"field": "g", "type": "nominal"}, "y": {"field": "u", "type": "quantitative"}}}
       ]},
      {"data": {"values": [{"g": "FAT1 siRNA#1", "lo": 81, "hi": 103}, {"g": "FAT1 siRNA#1 + activator II", "lo": 91.5, "hi": 103}]},
       "mark": {"type": "rule", "strokeWidth": 1, "color": "#000"}, "encoding": {"x": {"field": "g", "type": "nominal"}, "y": {"field": "lo", "type": "quantitative"}, "y2": {"field": "hi"}}},
      {"data": {"values": [{"a": "FAT1 siRNA#1", "b": "FAT1 siRNA#1 + activator II", "y": 103}]},
       "mark": {"type": "rule", "strokeWidth": 1, "color": "#000"}, "encoding": {"x": {"field": "a", "type": "nominal"}, "x2": {"field": "b"}, "y": {"field": "y", "type": "quantitative"}}},
      {"data": {"values": [{"b": "FAT1 siRNA#1 + activator II", "y": 109, "star": "*"}]},
       "mark": {"type": "text", "dx": -12, "fontSize": 13, "baseline": "middle"}, "encoding": {"x": {"field": "b", "type": "nominal"}, "y": {"field": "y", "type": "quantitative"}, "text": {"field": "star"}}}
     ]}
   ]},
   {"spacing": 7, "hconcat": [
    {"spacing": 5, "vconcat": [
     {"width": 1, "height": 1, "data": {"values": [{}]}, "mark": {"type": "point", "opacity": 0, "size": 1}},
     {"title": {"text": "f", "offset": -20, "dx": -15},
      "width": 125, "height": 142,
      "layer": [
       {"data": {"values": [{"g": "Cont", "r": "r1", "v": 32600}, {"g": "Cont", "r": "r2", "v": 34940}, {"g": "Cont", "r": "r3", "v": 31850}, {"g": "Cont", "r": "r4", "v": 34190}, {"g": "Cont", "r": "r5", "v": 32040}, {"g": "A4623", "r": "r2", "v": 29510}, {"g": "A4623", "r": "r4", "v": 30170}, {"g": "A4623", "r": "r3", "v": 26040}, {"g": "A4623", "r": "r4", "v": 22950}, {"g": "A4623", "r": "r2", "v": 21270}]},
        "mark": {"type": "point", "filled": true, "size": 45, "color": "#000", "opacity": 1},
        "encoding": {
         "x": {"field": "g", "type": "nominal", "sort": null, "scale": {"domain": ["Cont", "A4623"], "paddingInner": 0.676, "paddingOuter": 0.352}, "axis": {"labelAngle": -45, "title": null, "labelFontSize": 12.5}},
         "xOffset": {"field": "r", "type": "nominal", "scale": {"domain": ["r1", "r2", "r3", "r4", "r5"]}},
         "y": {"field": "v", "type": "quantitative", "scale": {"domain": [0, 40000], "nice": false}, "axis": {"values": [0, 10000, 20000, 30000, 40000], "tickCount": 10, "format": ",d", "title": "Calcein intensity"}},
         "shape": {"field": "g", "type": "nominal", "scale": {"domain": ["Cont", "A4623"], "range": ["circle", "square"]}, "legend": null}}},
       {"data": {"values": [{"g": "Cont", "m": 33000, "lo": 31600, "hi": 34400}, {"g": "A4623", "m": 25950, "lo": 22000, "hi": 30000}]},
        "layer": [
         {"mark": {"type": "rule", "strokeWidth": 1.2, "color": "#000"}, "encoding": {"x": {"field": "g", "type": "nominal"}, "y": {"field": "lo", "type": "quantitative"}, "y2": {"field": "hi"}}},
         {"mark": {"type": "tick", "orient": "horizontal", "size": 32, "thickness": 1.2, "color": "#000"}, "encoding": {"x": {"field": "g", "type": "nominal"}, "y": {"field": "m", "type": "quantitative"}}},
         {"mark": {"type": "tick", "orient": "horizontal", "size": 17, "thickness": 1.2, "color": "#000"}, "encoding": {"x": {"field": "g", "type": "nominal"}, "y": {"field": "lo", "type": "quantitative"}}},
         {"mark": {"type": "tick", "orient": "horizontal", "size": 17, "thickness": 1.2, "color": "#000"}, "encoding": {"x": {"field": "g", "type": "nominal"}, "y": {"field": "hi", "type": "quantitative"}}}
        ]},
       {"data": {"values": [{"g": "Cont", "lo": 37200, "hi": 40000}, {"g": "A4623", "lo": 33900, "hi": 40000}]},
        "mark": {"type": "rule", "strokeWidth": 1, "color": "#000"}, "encoding": {"x": {"field": "g", "type": "nominal"}, "y": {"field": "lo", "type": "quantitative"}, "y2": {"field": "hi"}}},
       {"data": {"values": [{"a": "Cont", "b": "A4623", "y": 40000}]},
        "mark": {"type": "rule", "strokeWidth": 1, "color": "#000"}, "encoding": {"x": {"field": "a", "type": "nominal"}, "x2": {"field": "b"}, "y": {"field": "y", "type": "quantitative"}}},
       {"data": {"values": [{"a": "Cont", "y": 41700, "star": "*"}]},
        "mark": {"type": "text", "dx": 31, "fontSize": 13, "baseline": "middle"}, "encoding": {"x": {"field": "a", "type": "nominal"}, "y": {"field": "y", "type": "quantitative"}, "text": {"field": "star"}}},
       {"data": {"values": [{}]}, "mark": {"type": "text", "text": "Cell–cell adhesion assay", "dx": 31, "fontSize": 12.5}, "encoding": {"x": {"datum": "Cont"}, "y": {"datum": 46300}}}
      ]}
    ]},
    {"spacing": 0, "vconcat": [
     {"width": 1, "height": 1, "data": {"values": [{}]}, "mark": {"type": "point", "opacity": 0, "size": 1}},
     {"title": {"text": "g", "offset": -19, "dx": -28},
      "width": 136, "height": 182,
      "layer": [
       {"data": {"values": [{"g": "Scr", "r": "r2", "v": 10540}, {"g": "Scr", "r": "r4", "v": 10680}, {"g": "Scr", "r": "r2", "v": 9910}, {"g": "Scr", "r": "r4", "v": 9170}, {"g": "Scr", "r": "r1", "v": 8670}, {"g": "Scr", "r": "r5", "v": 8670}, {"g": "Scr", "r": "r3", "v": 8030}, {"g": "FAT1 siRNA#1", "r": "r2", "v": 7430}, {"g": "FAT1 siRNA#1", "r": "r4", "v": 8175}, {"g": "FAT1 siRNA#1", "r": "r5", "v": 6190}, {"g": "FAT1 siRNA#1", "r": "r1", "v": 5640}, {"g": "FAT1 siRNA#1", "r": "r3", "v": 5450}, {"g": "FAT1 siRNA#1", "r": "r3", "v": 3385}, {"g": "FAT1 siRNA#2", "r": "r2", "v": 9360}, {"g": "FAT1 siRNA#2", "r": "r4", "v": 8530}, {"g": "FAT1 siRNA#2", "r": "r3", "v": 7510}, {"g": "FAT1 siRNA#2", "r": "r3", "v": 6190}, {"g": "FAT1 siRNA#2", "r": "r4", "v": 5370}, {"g": "FAT1 siRNA#2", "r": "r2", "v": 4540}]},
        "mark": {"type": "point", "filled": true, "size": 45, "color": "#000", "opacity": 1},
        "encoding": {
         "x": {"field": "g", "type": "nominal", "sort": null, "scale": {"domain": ["Scr", "FAT1 siRNA#1", "FAT1 siRNA#2"], "paddingInner": 0.465, "paddingOuter": 0.19}, "axis": {"labelAngle": -45, "title": null, "labelFontSize": 12.5}},
         "xOffset": {"field": "r", "type": "nominal", "scale": {"domain": ["r1", "r2", "r3", "r4", "r5"]}},
         "y": {"field": "v", "type": "quantitative", "scale": {"domain": [0, 15000], "nice": false}, "axis": {"values": [0, 5000, 10000, 15000], "tickCount": 10, "format": ",d", "title": "Calcein intensity"}},
         "shape": {"field": "g", "type": "nominal", "scale": {"domain": ["Scr", "FAT1 siRNA#1", "FAT1 siRNA#2"], "range": ["circle", "square", "triangle-up"]}, "legend": null}}},
       {"data": {"values": [{"g": "Scr", "m": 9360, "lo": 8340, "hi": 10370}, {"g": "FAT1 siRNA#1", "m": 6050, "lo": 4370, "hi": 7700}, {"g": "FAT1 siRNA#2", "m": 6935, "lo": 5060, "hi": 8800}]},
        "layer": [
         {"mark": {"type": "rule", "strokeWidth": 1.2, "color": "#000"}, "encoding": {"x": {"field": "g", "type": "nominal"}, "y": {"field": "lo", "type": "quantitative"}, "y2": {"field": "hi"}}},
         {"mark": {"type": "tick", "orient": "horizontal", "size": 30, "thickness": 1.2, "color": "#000"}, "encoding": {"x": {"field": "g", "type": "nominal"}, "y": {"field": "m", "type": "quantitative"}}},
         {"mark": {"type": "tick", "orient": "horizontal", "size": 14, "thickness": 1.2, "color": "#000"}, "encoding": {"x": {"field": "g", "type": "nominal"}, "y": {"field": "lo", "type": "quantitative"}}},
         {"mark": {"type": "tick", "orient": "horizontal", "size": 14, "thickness": 1.2, "color": "#000"}, "encoding": {"x": {"field": "g", "type": "nominal"}, "y": {"field": "hi", "type": "quantitative"}}}
        ]},
       {"data": {"values": [{"g": "Scr", "lo": 13260, "hi": 14090}, {"g": "FAT1 siRNA#2", "lo": 10040, "hi": 14090}, {"g": "Scr", "lo": 11280, "hi": 11970}, {"g": "FAT1 siRNA#1", "lo": 9270, "hi": 11970}]},
        "mark": {"type": "rule", "strokeWidth": 1, "color": "#000"}, "encoding": {"x": {"field": "g", "type": "nominal"}, "y": {"field": "lo", "type": "quantitative"}, "y2": {"field": "hi"}}},
       {"data": {"values": [{"a": "Scr", "b": "FAT1 siRNA#2", "y": 14090}, {"a": "Scr", "b": "FAT1 siRNA#1", "y": 11970}]},
        "mark": {"type": "rule", "strokeWidth": 1, "color": "#000"}, "encoding": {"x": {"field": "a", "type": "nominal"}, "x2": {"field": "b"}, "y": {"field": "y", "type": "quantitative"}}},
       {"data": {"values": [{"a": "Scr", "y": 12800, "star": "*"}]},
        "mark": {"type": "text", "dx": 23, "fontSize": 13, "baseline": "middle"}, "encoding": {"x": {"field": "a", "type": "nominal"}, "y": {"field": "y", "type": "quantitative"}, "text": {"field": "star"}}},
       {"data": {"values": [{"a": "FAT1 siRNA#1", "y": 14800, "star": "*"}]},
        "mark": {"type": "text", "fontSize": 13, "baseline": "middle"}, "encoding": {"x": {"field": "a", "type": "nominal"}, "y": {"field": "y", "type": "quantitative"}, "text": {"field": "star"}}},
       {"data": {"values": [{}]}, "mark": {"type": "text", "text": "Cell–cell adhesion assay", "fontSize": 12.5}, "encoding": {"x": {"datum": "FAT1 siRNA#1"}, "y": {"datum": 18520}}},
       {"data": {"values": [{}]}, "mark": {"type": "text", "text": "(differentiated podocytes)", "fontSize": 12.5}, "encoding": {"x": {"datum": "FAT1 siRNA#1"}, "y": {"datum": 17120}}}
      ]}
    ]}
   ]}
  ]}
 ]}
 ]}
]
}
